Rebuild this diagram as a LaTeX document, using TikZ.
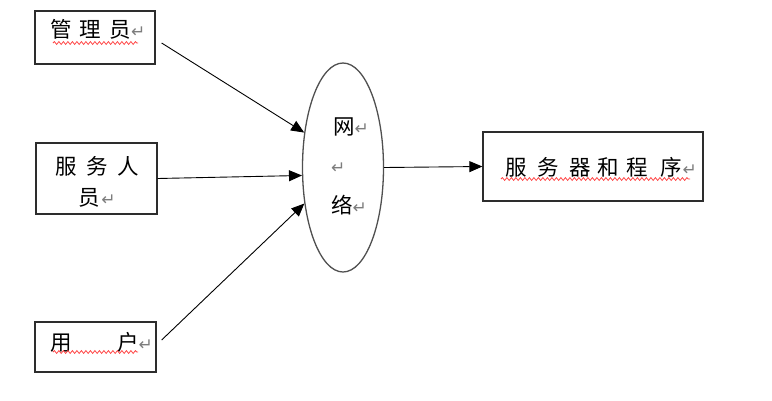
\documentclass[tikz,border=0pt]{standalone}
\usepackage{fontspec}
\usetikzlibrary{arrows.meta,shapes.geometric,decorations.pathmorphing}
\newfontfamily\cjk{Noto Sans CJK SC}
\newfontfamily\symfont{DejaVu Sans}
\definecolor{edgegray}{RGB}{45,45,45}
\definecolor{ringgray}{RGB}{80,80,80}
\definecolor{markgray}{RGB}{125,125,125}
\definecolor{spellred}{RGB}{255,70,70}
\newcommand{\pmark}{{\symfont\fontsize{17}{17}\selectfont\color{markgray}↵}}
\newcommand{\zg}[1]{\hspace{#1pt}}
\tikzset{
  box/.style={draw=edgegray,line width=1.3pt,inner sep=0pt},
  ring/.style={ellipse,draw=ringgray,line width=1.3pt,inner sep=0pt},
  txt/.style={inner sep=0pt,align=center,font=\cjk\fontsize{21.5}{31}\selectfont},
  arr/.style={-{Triangle[length=13pt,width=11pt]},draw=black,line width=0.9pt},
  spell/.style={draw=spellred,line width=0.8pt,decorate,decoration={snake,amplitude=1.4pt,segment length=4.5pt}}
}

\begin{document}
\begin{tikzpicture}[x=1pt,y=-1pt]
  \useasboundingbox (0,0) rectangle (772,400);
  % boxes and the network
  \node[box,minimum width=120pt,minimum height=53pt] (admin) at (95,37.5) {};
  \node[box,minimum width=121pt,minimum height=71pt] (staff) at (96.5,178.5) {};
  \node[box,minimum width=121pt,minimum height=50pt] (user) at (95.5,347) {};
  \node[ring,minimum width=81pt,minimum height=209pt] (net) at (343,167.5) {};
  \node[box,minimum width=220pt,minimum height=69pt] (server) at (593,166.5) {};
  % texts
  \node[txt] (admintxt) at (98,29) {管\zg{7}理\zg{8.5}员\zg{0.5}\pmark};
  \node[txt] (stafftxt) at (97,181.5) {服\zg{9.5}务\zg{9.5}人\\员\zg{1.5}\pmark};
  \node[txt] (usertxt) at (101.5,342) {用\zg{45.5}户\pmark};
  \node[txt,align=left,font=\cjk\fontsize{21.5}{39.5}\selectfont] (nettxt) at (350,166) {\zg{2}网\pmark\\\pmark\\络\pmark};
  \node[txt] (servertxt) at (601,167) {服\zg{10.5}务\zg{10.5}器\zg{6.5}和\zg{7.5}程\zg{12.5}序\zg{1}\pmark};
  % spelling marks
  \draw[spell] (53,43) -- (138,43);
  \draw[spell] (53,352) -- (138,352);
  \draw[spell] (501,179) -- (690,179);
  % connectors
  \draw[arr] ([xshift=6pt,yshift=-5.5pt]admin.east) -- (net.138);
  \draw[arr] (staff.east) -- (net.191);
  \draw[arr] ([xshift=5pt,yshift=7pt]user.east) -- (net.223);
  \draw[arr] (net.east) -- (server.west);
\end{tikzpicture}
\end{document}
